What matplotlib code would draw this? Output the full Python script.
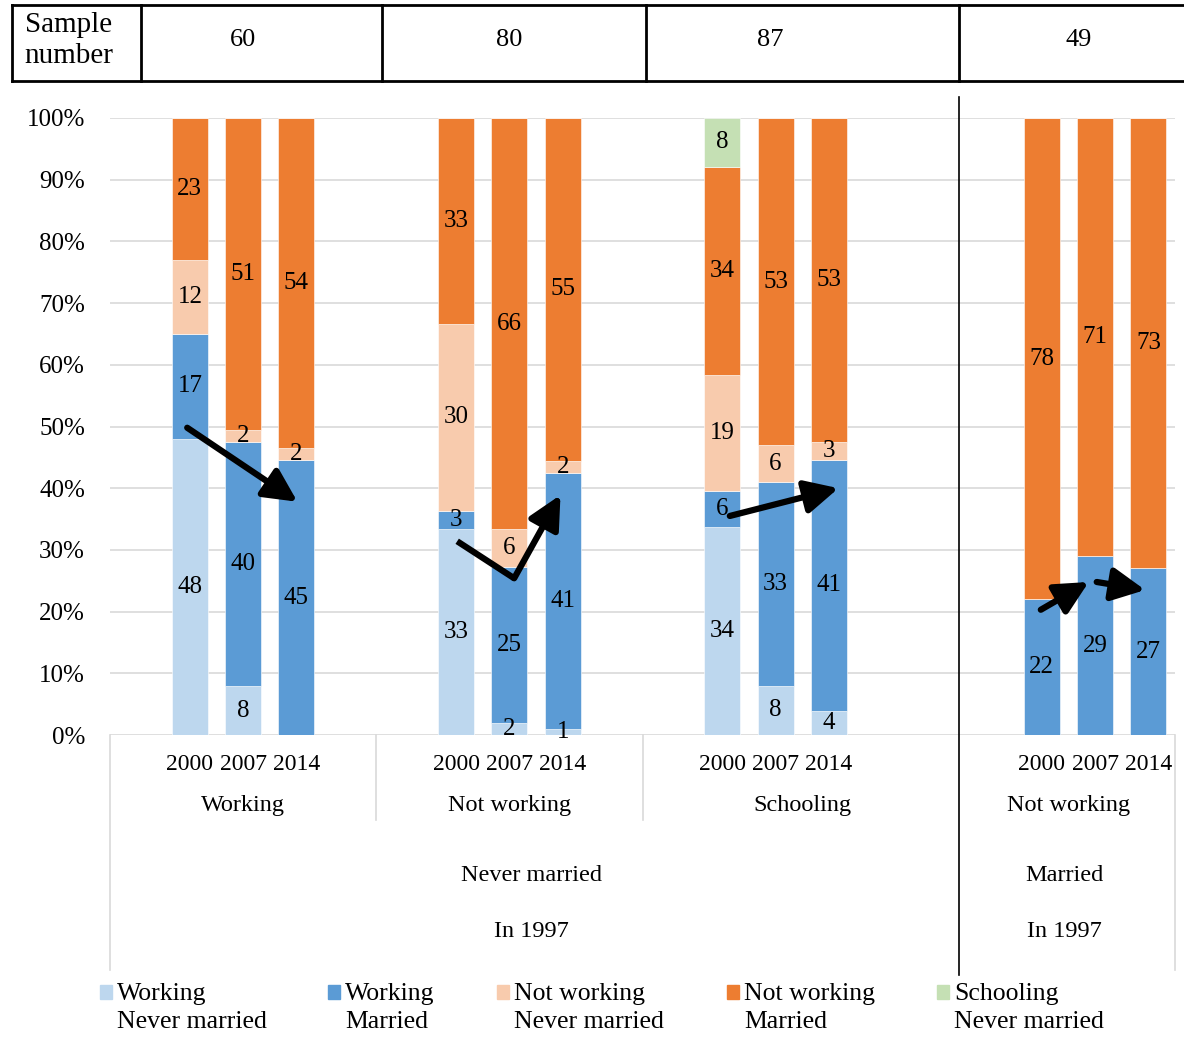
import matplotlib
matplotlib.use("Agg")
import matplotlib.pyplot as plt
import matplotlib.transforms as mtransforms
from matplotlib.patches import Rectangle
import numpy as np

plt.rcParams['font.family'] = ['Liberation Serif', 'DejaVu Serif']

# data: percentages shown on each bar, 12 bars (4 groups x 3 years)
years = ['2000', '2007', '2014']
groups = ['Working', 'Not working', 'Schooling', 'Not working']
status_1997 = ['Never married', 'Married']
sample_numbers = [60, 80, 87, 49]

series_names = ['Working\nNever married', 'Working\nMarried', 'Not working\nNever married',
                'Not working\nMarried', 'Schooling\nNever married']
working_never = [48, 8, 0, 33, 2, 1, 34, 8, 4, 0, 0, 0]
working_married = [17, 40, 45, 3, 25, 41, 6, 33, 41, 22, 29, 27]
notworking_never = [12, 2, 2, 30, 6, 2, 19, 6, 3, 0, 0, 0]
notworking_married = [23, 51, 54, 33, 66, 55, 34, 53, 53, 78, 71, 73]
schooling_never = [0, 0, 0, 0, 0, 0, 8, 0, 0, 0, 0, 0]
colors = ['#BDD7EE', '#5B9BD5', '#F8CBAD', '#ED7D31', '#C5E0B4']

# layout of category slots
group_spans = [(0, 5), (5, 10), (10, 16), (16, 20)]
status_spans = [(0, 16), (16, 20)]

fig = plt.figure(figsize=(11.84, 10.39), dpi=100)
ax = fig.add_axes([110 / 1184, 1 - 735 / 1039, 1065 / 1184, 617 / 1039])

xpos = []
for s, e in group_spans:
    xpos += [s + 1.5, s + 2.5, s + 3.5]
xpos = np.array(xpos)

allseries = np.array([working_never, working_married, notworking_never,
                      notworking_married, schooling_never], dtype=float)
totals = allseries.sum(axis=0)
heights = allseries / totals * 100

for yv in range(10, 101, 10):
    ax.axhline(yv, color='#D9D9D9', lw=1.2, zorder=0)
ax.axhline(0, color='#D9D9D9', lw=1.2, zorder=0)

bottom = np.zeros(len(xpos))
for i in range(len(allseries)):
    ax.bar(xpos, heights[i], 0.68, bottom=bottom, color=colors[i],
           edgecolor='white', linewidth=0.4, zorder=2)
    for j in range(len(xpos)):
        if allseries[i][j] > 0:
            ax.text(xpos[j], bottom[j] + heights[i][j] / 2, str(int(allseries[i][j])),
                    ha='center', va='center', fontsize=18, zorder=3)
    bottom += heights[i]

ax.set_xlim(0, 20)
ax.set_ylim(0, 100)
ax.set_xticks([])
ax.set_yticks(range(0, 101, 10))
ax.set_yticklabels([f'{v}%' for v in range(0, 101, 10)], fontsize=18)
ax.tick_params(axis='y', length=0, pad=18)
for sp in ax.spines.values():
    sp.set_visible(False)

# arrows (slot, percent)
arrow_kw = dict(arrowstyle='-|>,head_length=1.0,head_width=0.5', lw=4.5, color='black',
                shrinkA=0, shrinkB=0, mutation_scale=20)
ax.annotate('', xy=(3.52, 37.8), xytext=(1.45, 49.8), arrowprops=arrow_kw, zorder=5)
ax.plot([6.52, 7.59], [31.4, 25.4], color='black', lw=4.5, solid_capstyle='butt', zorder=5)
ax.annotate('', xy=(8.46, 38.9), xytext=(7.59, 25.4), arrowprops=arrow_kw, zorder=5)
ax.annotate('', xy=(13.68, 40.0), xytext=(11.64, 35.5), arrowprops=arrow_kw, zorder=5)
ax.annotate('', xy=(18.38, 24.8), xytext=(17.48, 20.3), arrowprops=arrow_kw, zorder=5)
ax.annotate('', xy=(19.44, 23.5), xytext=(18.53, 24.8), arrowprops=arrow_kw, zorder=5)

# multi-level category axis
trans = mtransforms.blended_transform_factory(ax.transData, ax.transAxes)
grey = '#D9D9D9'
for j, x in enumerate(xpos):
    ax.text(x, -0.0486, years[j % 3], transform=trans, ha='center', va='center',
            fontsize=17, clip_on=False)
for (s, e), g in zip(group_spans, groups):
    ax.text((s + e) / 2, -0.115, g, transform=trans, ha='center', va='center',
            fontsize=17.5, clip_on=False)
for (s, e), st in zip(status_spans, status_1997):
    ax.text((s + e) / 2 - 0.08, -0.2285, st, transform=trans, ha='center', va='center',
            fontsize=17.5, clip_on=False)
    ax.text((s + e) / 2 - 0.08, -0.319, 'In 1997', transform=trans, ha='center', va='center',
            fontsize=17.5, clip_on=False)
for x in [5, 10]:
    ax.plot([x, x], [0, -0.138], transform=trans, color=grey, lw=1.2, clip_on=False)
for x in [0, 20]:
    ax.plot([x, x], [0, -0.381], transform=trans, color=grey, lw=1.2, clip_on=False)
ax.plot([15.95, 15.95], [1.034, -0.389], transform=trans, color='black', lw=1.2, clip_on=False)

# sample number table on top
tbl_top, tbl_bot = 1.183, 1.06
col_edges = [-1.84, 0.58, 5.1, 10.07, 15.95, 20.4]
for x in col_edges:
    ax.plot([x, x], [tbl_bot, tbl_top], transform=trans, color='black', lw=2, clip_on=False)
for yv in [tbl_bot, tbl_top]:
    ax.plot([col_edges[0], col_edges[-1]], [yv, yv], transform=trans, color='black',
            lw=2, clip_on=False)
ax.text(-1.6, (tbl_top + tbl_bot) / 2 + 0.004, 'Sample\nnumber', transform=trans, ha='left',
        va='center', fontsize=21, linespacing=1.25, clip_on=False)
for x, n in zip([2.5, 7.5, 12.4, 18.2], sample_numbers):
    ax.text(x, (tbl_top + tbl_bot) / 2 + 0.005, str(n), transform=trans, ha='center',
            va='center', fontsize=19, clip_on=False)

# legend
leg_sq_x = [100, 328, 497, 727, 937]
for i, name in enumerate(series_names):
    fig.patches.append(Rectangle((leg_sq_x[i] / 1184, 1 - 999 / 1039), 12 / 1184, 14 / 1039,
                                 transform=fig.transFigure, color=colors[i]))
    fig.text((leg_sq_x[i] + 17) / 1184, 1 - 1008 / 1039, name, ha='left', va='center',
             fontsize=18.5, linespacing=1.3)

fig.savefig('out.png', dpi=100)
